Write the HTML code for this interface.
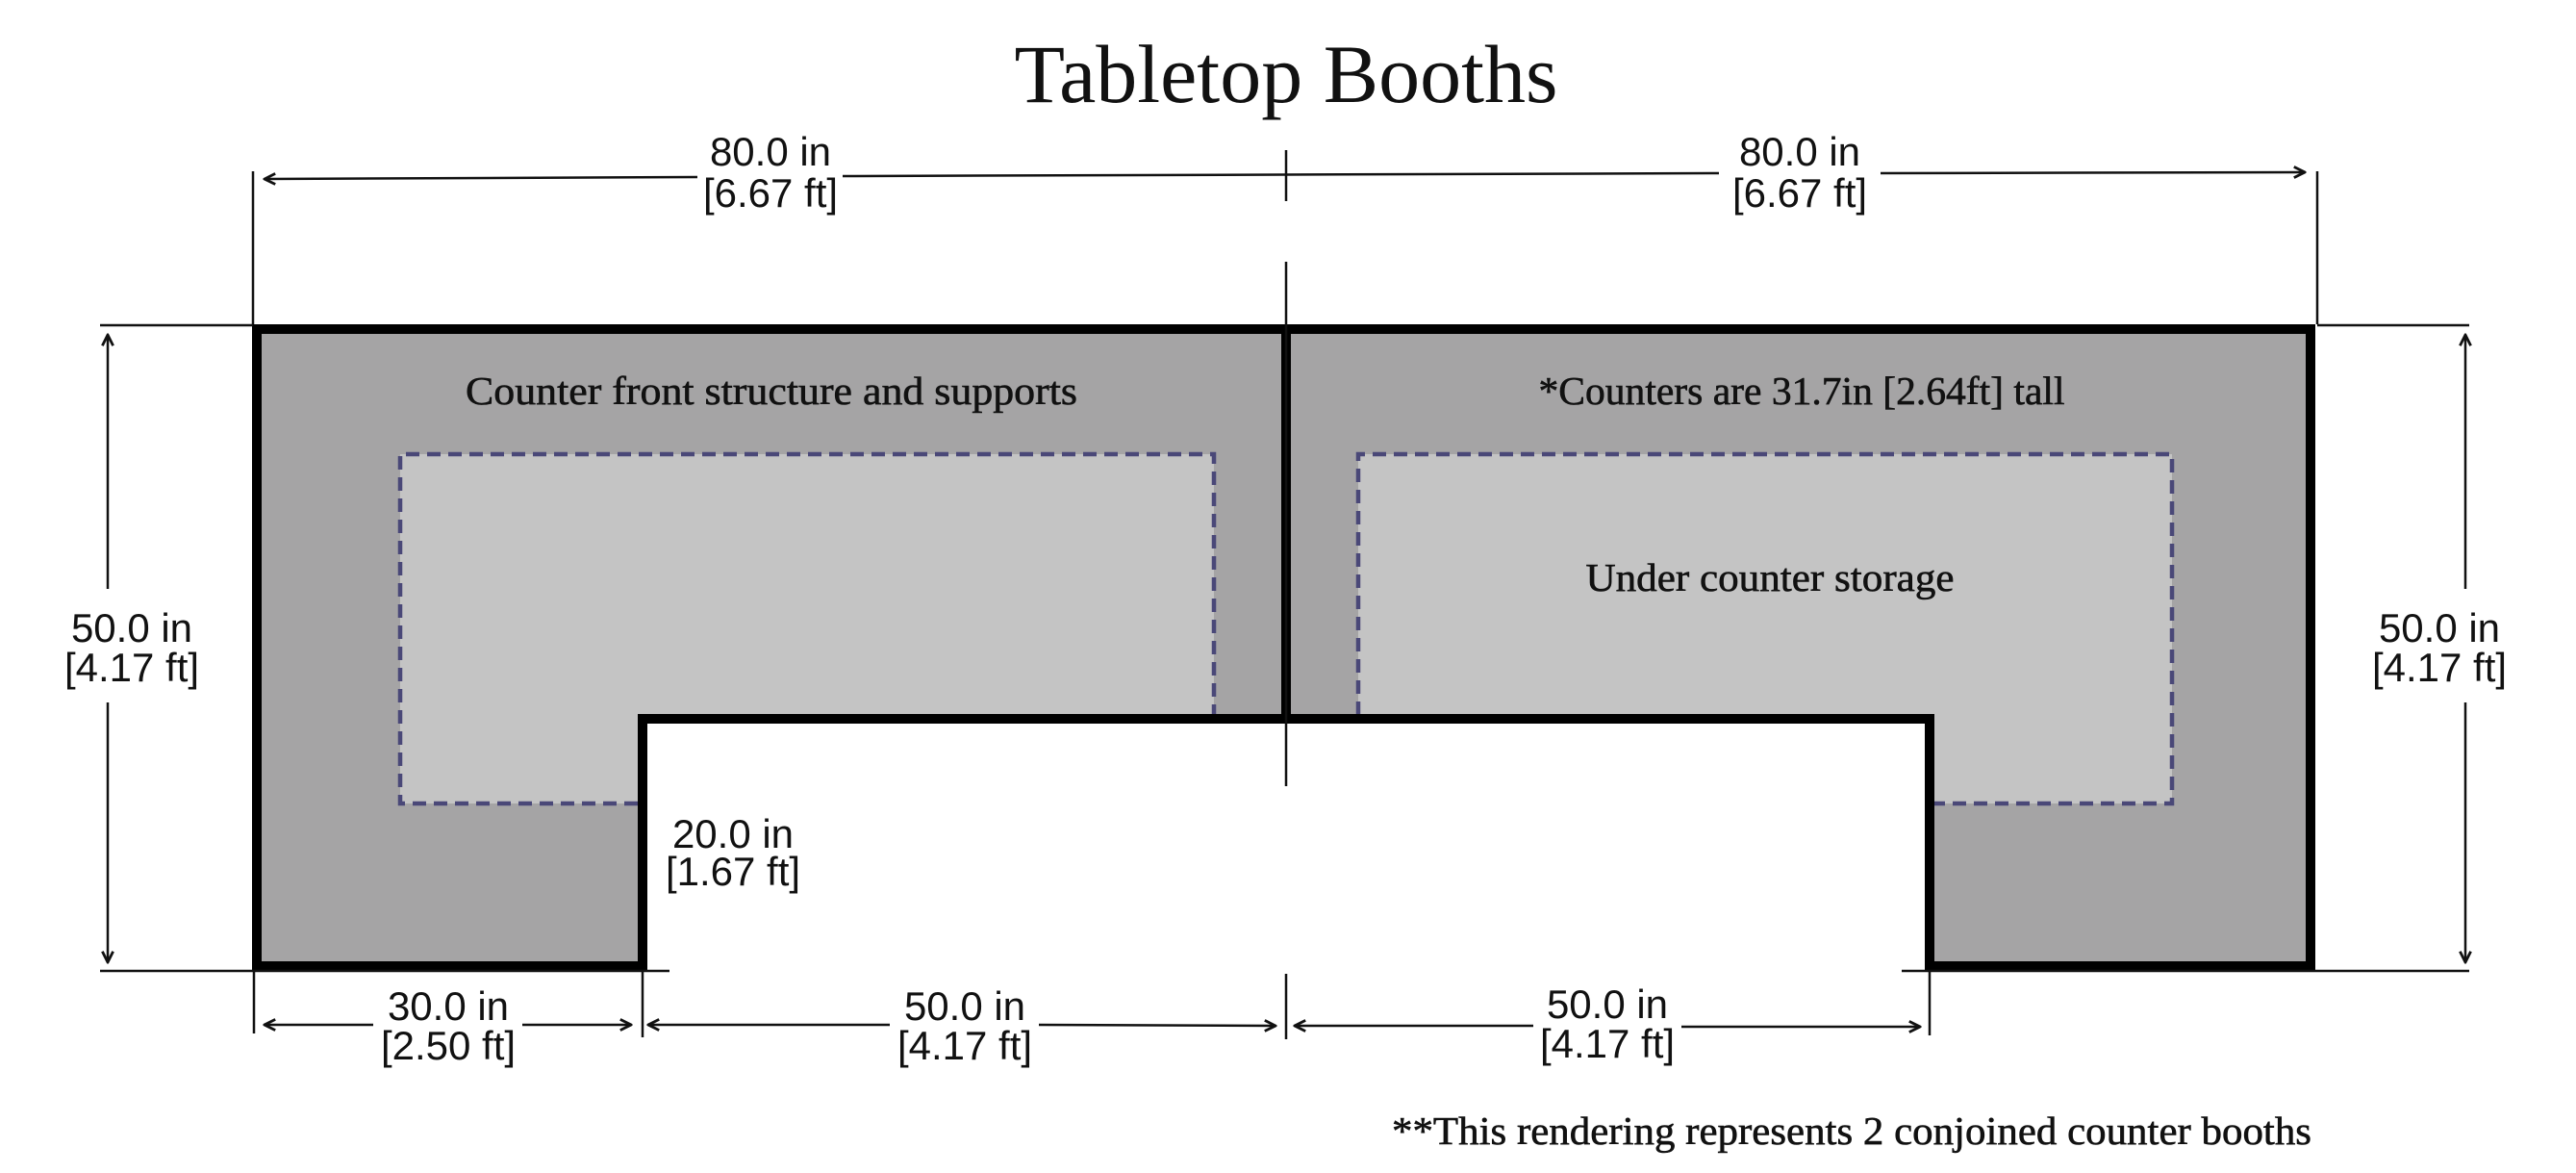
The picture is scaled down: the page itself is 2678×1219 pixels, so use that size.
<!DOCTYPE html>
<html><head><meta charset="utf-8"><style>
html,body{margin:0;padding:0;background:#fff;}
svg{display:block;}
.d{font-family:"Liberation Sans",sans-serif;font-size:42px;fill:#111;text-anchor:middle;}
.s{font-family:"Liberation Serif",serif;font-size:41px;fill:#111;text-anchor:middle;stroke:#111;stroke-width:0.6;}
</style></head><body>
<svg width="2678" height="1219" viewBox="0 0 2678 1219" xmlns="http://www.w3.org/2000/svg">
<defs>
<marker id="a" viewBox="0 0 10 10" refX="9" refY="5" markerWidth="14" markerHeight="14" markerUnits="userSpaceOnUse" orient="auto-start-reverse">
<path d="M1,1 L9,5 L1,9" fill="none" stroke="#111" stroke-width="2"/>
</marker>
</defs>
<text x="1337" y="106" font-family="Liberation Serif, serif" font-size="86" text-anchor="middle" fill="#111">Tabletop Booths</text>

<path d="M267,342 H2402 V1004 H2006 V747 H668 V1004 H267 Z" fill="#a5a4a5"/>
<path d="M416,472 H1262 V747 H668 V835 H416 Z" fill="#c4c4c4"/>
<path d="M1412,472 H2258 V835 H2006 V747 H1412 Z" fill="#c4c4c4"/>
<g fill="none" stroke="#4a4878" stroke-width="4.5" stroke-dasharray="14,8">
<path d="M663,835 H416 V472 H1262 V743"/>
<path d="M1412,743 V472 H2258 V835 H2011"/>
</g>
<path d="M267,342 H2402 V1004 H2006 V747 H668 V1004 H267 Z" fill="none" stroke="#000" stroke-width="10"/>
<line x1="1337" y1="342" x2="1337" y2="747" stroke="#000" stroke-width="10"/>

<g stroke="#111" stroke-width="2.5" fill="none">
<line x1="263" y1="178" x2="263" y2="337"/>
<line x1="2409" y1="178" x2="2409" y2="337"/>
<line x1="1337" y1="156" x2="1337" y2="209"/>
<line x1="1337" y1="272" x2="1337" y2="817"/>
<line x1="104" y1="338" x2="263" y2="338"/>
<line x1="2409" y1="338" x2="2567" y2="338"/>
<line x1="104" y1="1009" x2="696" y2="1009"/>
<line x1="1977" y1="1009" x2="2567" y2="1009"/>
<line x1="264" y1="1009" x2="264" y2="1074"/>
<line x1="668" y1="1009" x2="668" y2="1078"/>
<line x1="1337" y1="1012" x2="1337" y2="1080"/>
<line x1="2006" y1="1009" x2="2006" y2="1076"/>
<line x1="275" y1="186" x2="725" y2="184" marker-start="url(#a)"/>
<line x1="876" y1="183" x2="1787" y2="180"/>
<line x1="1955" y1="180" x2="2396" y2="179" marker-end="url(#a)"/>
<line x1="112" y1="348" x2="112" y2="612" marker-start="url(#a)"/>
<line x1="112" y1="730" x2="112" y2="1000" marker-end="url(#a)"/>
<line x1="2563" y1="348" x2="2563" y2="612" marker-start="url(#a)"/>
<line x1="2563" y1="730" x2="2563" y2="1000" marker-end="url(#a)"/>
<line x1="275" y1="1065" x2="388" y2="1065" marker-start="url(#a)"/>
<line x1="543" y1="1065" x2="656" y2="1065" marker-end="url(#a)"/>
<line x1="674" y1="1065" x2="925" y2="1065" marker-start="url(#a)"/>
<line x1="1080" y1="1065" x2="1326" y2="1066" marker-end="url(#a)"/>
<line x1="1346" y1="1066" x2="1594" y2="1066" marker-start="url(#a)"/>
<line x1="1748" y1="1067" x2="1996" y2="1067" marker-end="url(#a)"/>
</g>

<text class="d" x="801" y="172">80.0 in</text><text class="d" x="801" y="215">[6.67 ft]</text>
<text class="d" x="1871" y="172">80.0 in</text><text class="d" x="1871" y="215">[6.67 ft]</text>
<text class="d" x="137" y="667">50.0 in</text><text class="d" x="137" y="708">[4.17 ft]</text>
<text class="d" x="2536" y="667">50.0 in</text><text class="d" x="2536" y="708">[4.17 ft]</text>
<text class="d" x="762" y="881">20.0 in</text><text class="d" x="762" y="920">[1.67 ft]</text>
<text class="d" x="466" y="1060">30.0 in</text><text class="d" x="466" y="1101">[2.50 ft]</text>
<text class="d" x="1003" y="1060">50.0 in</text><text class="d" x="1003" y="1101">[4.17 ft]</text>
<text class="d" x="1671" y="1058">50.0 in</text><text class="d" x="1671" y="1099">[4.17 ft]</text>

<text class="s" x="802" y="420" textLength="636" lengthAdjust="spacingAndGlyphs">Counter front structure and supports</text>
<text class="s" x="1873" y="420" textLength="547" lengthAdjust="spacingAndGlyphs">*Counters are 31.7in [2.64ft] tall</text>
<text class="s" x="1840" y="614" textLength="383" lengthAdjust="spacingAndGlyphs">Under counter storage</text>
<text class="s" x="1925" y="1189" textLength="956" lengthAdjust="spacingAndGlyphs">**This rendering represents 2 conjoined counter booths</text>
</svg>
</body></html>
